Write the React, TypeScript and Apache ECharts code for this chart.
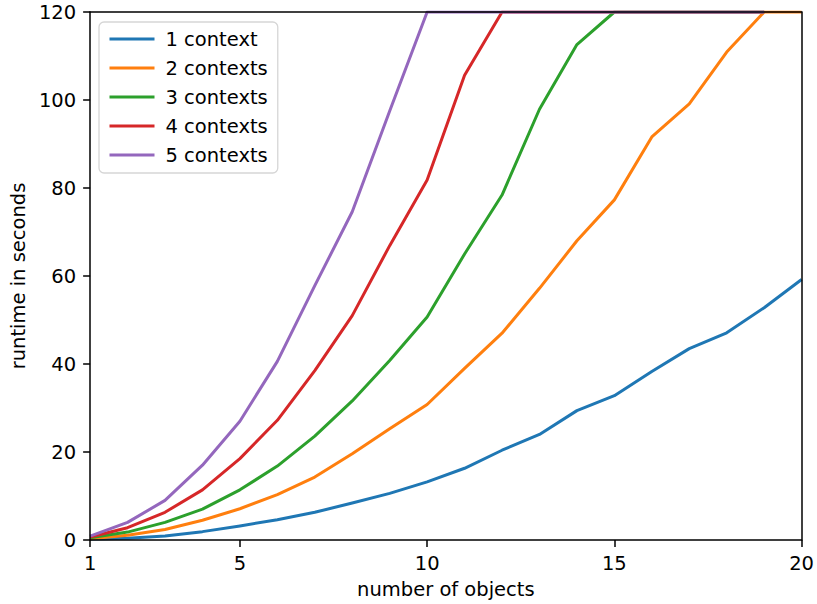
import React, { useEffect, useRef } from "react";
import * as echarts from "echarts";

const objectCounts = [1, 2, 3, 4, 5, 6, 7, 8, 9, 10, 11, 12, 13, 14, 15, 16, 17, 18, 19, 20];

const oneContext = [0.2, 0.4, 0.9, 1.9, 3.2, 4.6, 6.3, 8.4, 10.6, 13.2, 16.3, 20.4, 24.0, 29.4, 32.8, 38.3, 43.5, 47.1, 52.8, 59.2];
const twoContexts = [0.3, 1.1, 2.4, 4.5, 7.1, 10.3, 14.3, 19.6, 25.3, 30.8, 39.0, 47.0, 57.2, 68.0, 77.3, 91.6, 99.1, 110.9, 120, 120];
const threeContexts = [0.5, 1.8, 4.0, 7.0, 11.4, 16.8, 23.6, 31.6, 40.8, 50.7, 65.0, 78.4, 97.9, 112.6, 120, 120, 120, 120, 120];
const fourContexts = [0.7, 2.8, 6.3, 11.4, 18.5, 27.2, 38.5, 51.0, 66.9, 81.8, 105.6, 120, 120, 120, 120, 120, 120, 120, 120];
const fiveContexts = [0.9, 4.0, 9.0, 17.0, 27.0, 40.6, 57.8, 74.6, 97.5, 120, 120, 120, 120, 120, 120, 120, 120, 120, 120];

const seriesNames = ["1 context", "2 contexts", "3 contexts", "4 contexts", "5 contexts"];
const seriesValues = [oneContext, twoContexts, threeContexts, fourContexts, fiveContexts];
const colors = ["#1f77b4", "#ff7f0e", "#2ca02c", "#d62728", "#9467bd"];

const xTicks = [1, 5, 10, 15, 20];
const yMin = 0;
const yMax = 120;
const yStep = 20;

const FONT = "DejaVu Sans";
const FS = 19.5;

export default function App() {
  const ref = useRef<HTMLDivElement>(null);

  useEffect(() => {
    if (!ref.current) return;
    const chart = echarts.init(ref.current, undefined, { renderer: "svg" });

    const series = seriesNames.map((name, i) => ({
      name,
      type: "line",
      data: seriesValues[i].map((v, j) => [objectCounts[j], v]),
      symbol: "none",
      showSymbol: false,
      clip: true,
      lineStyle: { color: colors[i], width: 3, cap: "butt", join: "round" },
      itemStyle: { color: colors[i] },
      xAxisIndex: 0,
      yAxisIndex: 0,
      z: 2,
    }));

    chart.setOption({
      animation: false,
      backgroundColor: "#ffffff",
      textStyle: { fontFamily: FONT },
      grid: { left: 90, right: 13, top: 12, bottom: 59, containLabel: false },
      legend: {
        show: true,
        orient: "vertical",
        left: 99,
        top: 22,
        data: seriesNames,
        itemWidth: 45,
        itemHeight: 20,
        itemGap: 9,
        padding: [7, 10, 8, 9],
        backgroundColor: "rgba(255,255,255,0.8)",
        borderColor: "#d6d6d6",
        borderWidth: 1.3,
        borderRadius: 5,
        itemStyle: { opacity: 0 },
        lineStyle: { width: 3 },
        textStyle: { fontFamily: FONT, fontSize: FS, color: "#000", padding: [0, 0, 0, 6] },
        z: 20,
      },
      xAxis: [
        {
          type: "value",
          min: 1,
          max: 20,
          position: "bottom",
          name: "number of objects",
          nameLocation: "middle",
          nameGap: 39,
          nameTextStyle: { fontFamily: FONT, fontSize: FS, color: "#000" },
          axisLine: { show: true, onZero: false, lineStyle: { color: "#000", width: 1.5 } },
          axisTick: { show: true, inside: false, length: 7, customValues: xTicks, lineStyle: { color: "#000", width: 1.5 } },
          axisLabel: { show: true, customValues: xTicks, margin: 13, fontFamily: FONT, fontSize: FS, color: "#000" },
          splitLine: { show: false },
          z: 10,
        },
        {
          type: "value",
          min: 1,
          max: 20,
          position: "top",
          axisLine: { show: true, onZero: false, lineStyle: { color: "#000", width: 1.5 } },
          axisTick: { show: false },
          axisLabel: { show: false },
          splitLine: { show: false },
          z: 10,
        },
      ],
      yAxis: [
        {
          type: "value",
          min: yMin,
          max: yMax,
          interval: yStep,
          position: "left",
          name: "runtime in seconds",
          nameLocation: "middle",
          nameGap: 60,
          nameTextStyle: { fontFamily: FONT, fontSize: FS, color: "#000" },
          axisLine: { show: true, onZero: false, lineStyle: { color: "#000", width: 1.5 } },
          axisTick: { show: true, inside: false, length: 7, lineStyle: { color: "#000", width: 1.5 } },
          axisLabel: { show: true, margin: 14, fontFamily: FONT, fontSize: FS, color: "#000" },
          splitLine: { show: false },
          z: 10,
        },
        {
          type: "value",
          min: yMin,
          max: yMax,
          interval: yStep,
          position: "right",
          axisLine: { show: true, onZero: false, lineStyle: { color: "#000", width: 1.5 } },
          axisTick: { show: false },
          axisLabel: { show: false },
          splitLine: { show: false },
          z: 10,
        },
      ],
      series,
    });

    return () => {
      chart.dispose();
    };
  }, []);

  return (
    <div
      ref={ref}
      style={{ position: "fixed", left: 0, top: 0, width: 817, height: 604, background: "#fff" }}
    />
  );
}
